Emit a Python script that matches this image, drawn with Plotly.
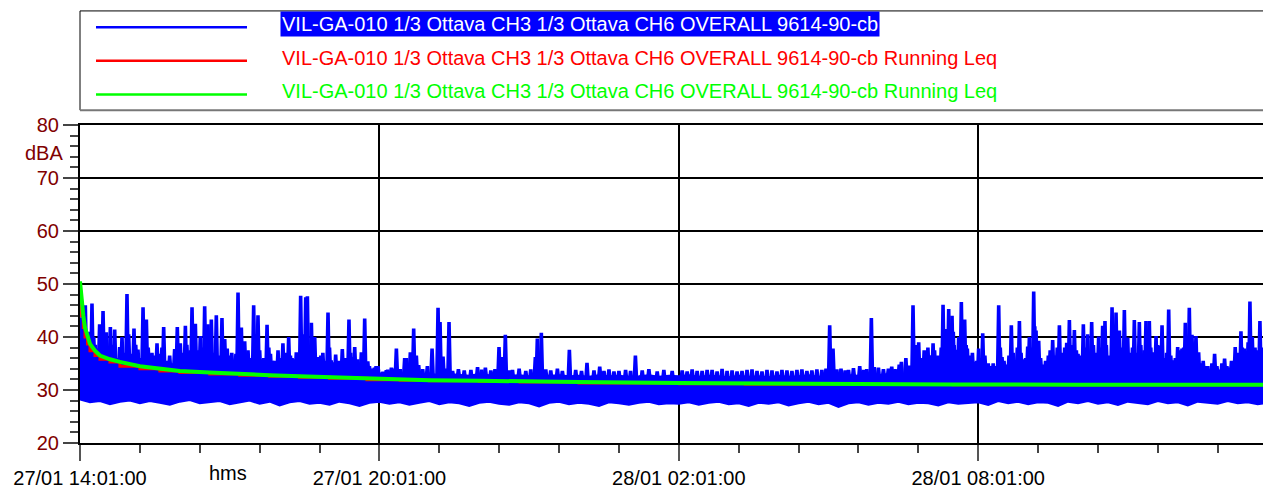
import numpy as np
import pandas as pd
import plotly.graph_objects as go

START = pd.Timestamp("2021-01-27 14:01:00")
END_MIN = 1422.4  # minutes after start at the right edge of the view

# ---- Blue series: noise band, sampled every 12 min (floor and top of the dense band, dBA) ----
band_min = list(range(0, 1440, 12))
band_floor = [28.2, 27.7, 27.9, 27.3, 27.8, 28.0, 27.5, 27.9, 27.6, 27.2, 27.8, 28.1, 27.5, 27.7, 27.9,
              27.3, 27.6, 28.0, 27.4, 27.8, 27.1, 27.7, 27.9, 27.4, 27.6, 27.2, 27.8, 27.5, 27.0, 27.6,
              27.8, 27.4, 27.7, 27.2, 27.6, 27.9, 27.3, 27.7, 27.5, 27.0, 27.6, 27.8, 27.4, 27.2, 27.7,
              27.5, 26.9, 27.6, 27.8, 27.3, 27.6, 27.4, 27.0, 27.7, 27.5, 27.2, 27.6, 27.8, 27.3, 27.5,
              27.4, 27.7, 27.2, 27.6, 27.8, 27.3, 27.5, 27.0, 27.6, 27.4, 27.7, 27.1, 27.5, 27.8, 27.3,
              27.6, 26.8, 27.5, 27.7, 27.2, 27.6, 27.4, 27.8, 27.3, 27.6, 27.5, 27.1, 27.7, 27.4, 27.6,
              27.7, 27.2, 27.9, 27.5, 27.8, 27.3, 27.7, 27.6, 27.0, 27.8, 27.5, 27.9, 27.4, 27.7, 27.2,
              27.8, 27.6, 27.3, 27.9, 27.5, 27.7, 27.1, 27.8, 27.6, 27.4, 27.9, 27.5, 27.7, 27.3, 27.6]
band_top = [36.0, 35.4, 35.0, 34.8, 34.5, 34.6, 34.2, 34.4, 34.0, 34.2, 33.9, 34.1, 33.8, 34.0, 33.7,
            33.9, 33.6, 33.8, 33.5, 33.7, 33.5, 33.6, 33.4, 33.6, 33.3, 33.5, 33.3, 33.4, 33.2, 33.3,
            33.1, 33.3, 33.0, 33.2, 32.9, 33.1, 32.8, 33.0, 32.9, 32.7, 33.0, 32.8, 32.9, 32.7, 32.8,
            32.6, 32.9, 32.7, 32.8, 32.6, 32.7, 32.5, 32.8, 32.6, 32.7, 32.5, 32.6, 32.8, 32.5, 32.7,
            32.6, 32.8, 32.5, 32.7, 32.6, 32.4, 32.7, 32.5, 32.6, 32.4, 32.7, 32.5, 32.6, 32.8, 32.5,
            32.7, 32.6, 32.8, 32.7, 32.9, 32.8, 33.0, 32.9, 33.1, 33.0, 33.2, 33.1, 33.3, 33.2, 33.3,
            33.2, 33.4, 33.1, 33.3, 33.2, 33.4, 33.3, 33.1, 33.4, 33.2, 33.3, 33.5, 33.2, 33.4, 33.3,
            33.1, 33.3, 33.2, 33.4, 33.1, 33.3, 33.2, 33.0, 33.2, 33.1, 33.3, 33.2, 33.0, 33.2, 33.1]

# ---- Blue series: peaks as (minutes after start, dBA), by part of the day ----
peaks_afternoon = [
    (1.5, 43.7), (3.0, 38.0), (4.0, 40.0), (6.4, 46.0), (8.5, 39.5), (10.0, 37.5), (12.0, 41.0), (14.4, 46.3),
    (16.5, 40.0), (18.5, 38.5), (20.5, 37.8), (23.6, 42.4), (25.5, 39.0), (27.7, 44.9), (29.5, 38.0),
    (31.7, 40.9), (34.0, 37.5), (36.5, 41.9), (39.0, 38.5), (41.7, 41.4), (44.5, 36.0), (47.7, 38.1),
    (50.5, 40.0), (53.0, 37.0), (56.5, 48.1), (58.5, 40.5), (61.0, 36.8), (64.9, 41.6), (67.0, 38.5),
    (69.7, 37.6), (72.5, 36.0), (75.8, 45.6), (79.8, 43.3), (82.0, 38.0), (84.6, 36.3), (86.5, 37.0),
    (88.5, 35.8), (90.5, 36.5), (92.6, 38.8), (96.0, 36.8), (98.5, 38.0), (100.6, 41.9), (104.0, 35.5),
    (107.8, 36.5), (110.5, 35.0), (113.8, 37.7), (115.5, 36.5), (117.0, 41.9), (120.6, 38.8), (123.5, 37.0),
    (126.7, 42.1), (128.5, 38.5), (130.5, 36.2), (132.5, 37.5), (134.7, 45.6), (136.5, 39.0), (138.7, 42.5),
    (141.0, 37.5), (144.7, 40.2), (147.0, 38.0), (149.9, 45.8), (151.5, 39.5), (153.9, 42.4), (155.5, 38.5),
    (157.9, 43.3), (160.9, 37.0), (163.9, 44.1), (167.0, 36.5), (170.7, 43.6), (172.5, 38.0), (174.0, 39.6),
    (177.0, 37.8), (180.0, 36.5), (182.5, 37.0), (185.0, 35.5), (187.5, 36.8), (190.0, 48.4), (192.0, 40.0),
    (194.0, 41.8), (196.0, 38.0), (198.0, 39.2), (200.0, 36.5), (202.0, 37.5), (205.0, 36.0), (208.8, 46.0),
    (211.0, 40.5), (214.0, 44.1), (216.0, 37.5), (218.0, 35.8), (221.0, 36.0), (224.9, 42.3), (227.0, 38.0),
    (229.0, 36.8), (231.5, 35.5), (234.0, 35.5), (238.1, 37.5), (241.0, 36.0), (244.0, 38.8), (247.0, 37.0),
    (250.9, 40.0), (253.0, 36.5), (255.0, 36.0), (258.0, 35.8), (260.1, 37.1), (262.5, 36.0), (265.3, 47.8),
    (268.0, 40.5), (271.4, 47.5), (273.4, 47.7), (275.5, 38.5), (278.2, 42.7), (280.0, 37.0), (282.2, 40.0),
    (285.0, 35.5), (287.0, 36.2), (289.5, 36.5), (292.0, 37.0), (295.0, 35.5), (298.2, 44.6), (300.0, 38.0),
    (302.0, 35.6), (305.0, 35.2), (307.4, 36.7), (311.0, 35.5), (313.0, 35.0), (315.4, 37.7), (317.0, 35.6),
    (319.0, 36.0), (321.0, 35.0), (323.4, 43.3), (325.5, 37.0), (327.0, 36.2), (330.3, 38.1), (332.0, 35.5),
    (334.0, 35.8), (336.0, 35.0), (338.3, 37.1), (340.0, 36.5), (342.3, 43.5), (344.0, 35.0), (346.0, 35.4),
    (348.0, 34.5), (350.3, 33.5), (352.0, 34.0), (354.0, 34.2), (356.0, 34.5), (358.3, 34.5)]
peaks_evening = [
    (364.3, 33.4), (368.3, 33.7), (370.0, 33.8), (374.4, 34.2), (378.0, 34.0), (380.4, 37.8), (385.0, 33.9),
    (390.4, 36.0), (392.5, 36.0), (397.2, 37.1), (401.2, 41.6), (404.4, 36.5), (407.2, 34.7), (412.0, 33.9),
    (417.7, 34.5), (423.3, 37.8), (430.5, 45.5), (432.9, 42.8), (436.5, 36.3), (440.0, 34.0), (443.7, 42.8),
    (448.0, 33.6), (455.0, 33.9), (462.0, 33.7), (470.0, 33.8), (478.0, 34.3), (483.0, 33.8), (487.4, 34.2),
    (494.0, 33.7), (499.0, 33.9), (503.8, 38.1), (507.4, 36.2), (511.4, 40.4), (516.0, 33.7), (520.0, 33.8),
    (528.0, 34.0), (536.0, 33.6), (542.0, 33.9), (547.5, 36.2), (549.9, 39.7), (554.7, 40.8), (560.0, 33.9),
    (566.0, 33.7), (574.0, 34.0), (580.0, 33.6), (588.4, 37.6), (596.0, 33.8), (603.0, 33.6), (609.6, 35.1),
    (618.0, 33.7), (624.9, 34.4), (630.0, 33.6), (636.0, 33.9), (642.0, 33.5), (648.0, 33.6), (656.0, 33.8),
    (662.0, 33.6), (667.8, 36.5), (676.0, 33.7), (684.0, 33.9), (694.0, 33.5), (702.0, 33.8), (712.0, 33.6)]
peaks_night = [
    (724.0, 33.7), (730.0, 33.5), (736.0, 33.9), (742.0, 33.6), (748.0, 33.6), (754.0, 33.8), (760.0, 33.8),
    (766.0, 33.5), (772.0, 34.0), (778.0, 33.6), (784.0, 33.7), (790.0, 33.5), (796.0, 33.6), (802.0, 33.8),
    (808.0, 33.9), (814.0, 33.6), (820.0, 33.5), (826.0, 33.8), (832.0, 33.7), (838.0, 33.5), (844.0, 33.8),
    (850.0, 33.7), (856.0, 33.6), (862.0, 33.8), (868.0, 33.9), (874.0, 33.6), (880.0, 33.7), (886.0, 33.9),
    (892.0, 33.8), (897.0, 34.0), (901.4, 42.2), (905.4, 37.8), (910.0, 33.9), (915.0, 34.0), (920.0, 33.7),
    (924.0, 33.8), (930.0, 34.1), (937.5, 34.5), (942.0, 33.8), (946.0, 33.9), (951.5, 43.6), (955.0, 34.3),
    (960.0, 34.2), (966.0, 33.9), (972.0, 34.0), (976.0, 34.4), (980.0, 33.9), (985.0, 34.8), (987.6, 35.3),
    (993.0, 36.0), (997.0, 34.6), (1001.6, 46.0), (1003.5, 37.0), (1006.0, 38.5), (1008.4, 39.0),
    (1010.5, 36.0), (1012.0, 35.5), (1015.0, 37.5), (1017.7, 36.1), (1019.5, 38.0), (1021.0, 36.5),
    (1023.5, 36.5), (1025.7, 38.8), (1027.5, 37.5), (1029.0, 36.0), (1031.5, 36.5), (1033.7, 34.8),
    (1035.5, 38.0), (1037.7, 46.1), (1039.5, 39.0), (1041.7, 41.5), (1043.0, 40.0), (1044.5, 45.3),
    (1046.5, 39.5), (1048.5, 44.0), (1050.0, 41.0), (1051.0, 38.5), (1053.0, 37.0), (1054.9, 37.6),
    (1056.5, 40.0), (1058.0, 39.5), (1059.7, 46.6), (1061.5, 40.5), (1063.7, 43.3), (1065.5, 38.5),
    (1066.9, 37.8), (1068.5, 36.0), (1070.9, 36.5), (1073.0, 37.0), (1075.7, 35.3), (1078.0, 35.5)]
peaks_morning = [
    (1080.5, 37.8), (1082.5, 36.0), (1085.4, 40.7), (1088.0, 36.5), (1092.0, 35.0), (1095.0, 34.5),
    (1098.0, 35.0), (1101.0, 34.5), (1104.6, 46.0), (1106.5, 38.0), (1108.6, 36.2), (1111.0, 35.5),
    (1114.0, 34.8), (1117.0, 36.5), (1119.8, 42.2), (1122.0, 37.0), (1124.6, 35.6), (1127.0, 38.0),
    (1129.5, 43.0), (1131.5, 37.0), (1134.0, 35.8), (1137.0, 36.0), (1139.5, 38.2), (1141.5, 40.0),
    (1143.5, 36.8), (1145.0, 38.0), (1146.7, 48.6), (1148.0, 42.0), (1149.5, 41.2), (1151.0, 37.0),
    (1152.7, 39.3), (1155.0, 36.0), (1158.0, 34.8), (1161.0, 35.5), (1164.3, 36.5), (1166.5, 37.5),
    (1169.5, 39.4), (1172.0, 36.5), (1175.0, 38.0), (1177.6, 42.2), (1180.0, 37.0), (1182.0, 36.0),
    (1184.0, 38.0), (1186.4, 38.9), (1188.0, 37.0), (1189.6, 43.2), (1192.0, 38.5), (1195.6, 41.3),
    (1198.0, 37.5), (1200.0, 36.8), (1203.0, 36.5), (1206.4, 42.4), (1209.0, 38.0), (1211.6, 40.5),
    (1214.0, 37.0), (1216.4, 42.8), (1218.5, 38.5), (1220.0, 36.8), (1222.5, 37.0), (1224.8, 40.1),
    (1227.0, 38.0), (1229.6, 42.1), (1232.4, 43.0), (1234.0, 38.5), (1236.0, 34.8), (1238.0, 36.5),
    (1240.9, 45.6), (1243.0, 40.0), (1245.7, 44.6), (1247.5, 38.5), (1249.7, 41.2), (1252.0, 38.0),
    (1255.7, 45.1), (1258.0, 37.5), (1259.7, 39.9), (1261.5, 37.0), (1263.5, 35.5), (1265.5, 38.0),
    (1267.7, 43.2), (1270.5, 37.0), (1273.7, 42.8), (1275.5, 38.5), (1277.5, 36.8), (1279.5, 37.5),
    (1281.7, 43.0), (1283.5, 38.5), (1285.7, 43.0), (1287.5, 38.0), (1289.8, 37.1), (1291.5, 36.5),
    (1293.8, 40.2), (1295.5, 38.5), (1297.8, 38.4), (1299.5, 37.0), (1301.0, 42.2), (1304.0, 36.0),
    (1306.5, 37.0), (1309.0, 45.2), (1311.5, 36.5), (1314.0, 35.6), (1317.0, 36.0), (1319.8, 38.1),
    (1322.0, 37.5), (1325.0, 37.8), (1327.0, 38.0), (1329.0, 42.7), (1331.5, 38.0), (1333.8, 45.5),
    (1335.5, 39.0), (1337.0, 40.4), (1339.5, 37.0), (1341.8, 40.2), (1343.5, 36.5), (1345.0, 37.1),
    (1348.0, 35.0), (1350.5, 35.5), (1353.0, 34.5), (1356.0, 34.5), (1358.0, 33.8), (1361.0, 35.0),
    (1364.2, 36.8), (1367.0, 34.5), (1370.0, 33.8), (1373.0, 35.0), (1376.2, 35.9), (1379.0, 34.5),
    (1382.0, 34.2), (1384.5, 35.5), (1386.0, 35.3), (1389.0, 38.1), (1392.5, 37.0), (1395.9, 41.1),
    (1397.5, 38.0), (1399.9, 37.8), (1402.5, 36.5), (1404.5, 39.0), (1406.7, 46.7), (1409.5, 40.0),
    (1412.8, 38.0), (1415.0, 37.5), (1418.7, 43.0), (1420.5, 38.0)]

# ---- Running Leq (green) and its stepped twin (red) ----
leq_min = [0, 1, 2, 4, 6, 9, 12, 18, 24, 36, 48, 72, 96, 120, 156, 192, 228, 264, 300, 345,
           385, 420, 480, 529, 600, 721, 800, 926, 1050, 1200, 1320, 1422.4]
leq_db = [50.5, 48.5, 46.8, 44.0, 41.8, 40.0, 38.7, 37.4, 36.5, 35.8, 35.3, 34.5, 34.0, 33.6, 33.3, 33.0,
          32.8, 32.6, 32.4, 32.2, 31.95, 31.85, 31.75, 31.6, 31.5, 31.3, 31.2, 31.1, 31.05, 31.0, 31.0, 31.0]
red_min = [0, 1, 2, 4, 6, 9, 12, 18, 24, 36, 48, 72, 96, 120, 156, 192, 228, 264, 300, 345,
           385, 420, 480, 529, 600, 721, 800, 926, 1050, 1200, 1320, 1422.4]
red_db = [48.5, 46.8, 44.0, 41.8, 40.0, 38.7, 37.4, 36.5, 35.8, 35.3, 34.5, 34.0, 33.6, 33.3, 33.0, 32.8,
          32.6, 32.4, 32.2, 31.95, 31.85, 31.75, 31.6, 31.5, 31.3, 31.2, 31.1, 31.05, 31.0, 31.0, 31.0, 31.0]

legend_names = ["VIL-GA-010 1/3 Ottava CH3 1/3 Ottava CH6 OVERALL 9614-90-cb",
                "VIL-GA-010 1/3 Ottava CH3 1/3 Ottava CH6 OVERALL 9614-90-cb Running Leq",
                "VIL-GA-010 1/3 Ottava CH3 1/3 Ottava CH6 OVERALL 9614-90-cb Running Leq"]

BLUE, RED, GREEN, DARKRED = "#0000FF", "#FF0000", "#00FF00", "#800000"
FONT = "Liberation Sans, Arial, sans-serif"


def to_time(mins):
    return [None if m is None else START + pd.Timedelta(minutes=float(m)) for m in mins]


fig = go.Figure()

# noise band
fig.add_trace(go.Scatter(x=to_time(band_min), y=band_floor, mode="lines",
                         line=dict(color=BLUE, width=2), showlegend=False, hoverinfo="skip"))
fig.add_trace(go.Scatter(x=to_time(band_min), y=band_top, mode="lines", fill="tonexty",
                         fillcolor=BLUE, line=dict(color=BLUE, width=2), showlegend=False,
                         name=legend_names[0]))

# peaks
peaks = sorted(peaks_afternoon + peaks_evening + peaks_night + peaks_morning)
sx, sy = [], []
for t, v in peaks:
    base = float(np.interp(t, band_min, band_top)) - 0.8
    sx += [t - 1.4, t, t + 1.4, None]
    sy += [base, v, base, None]
fig.add_trace(go.Scatter(x=to_time(sx), y=sy, mode="lines",
                         line=dict(color=BLUE, width=3.6, simplify=False),
                         showlegend=False, connectgaps=False, name=legend_names[0]))

# running Leq
fig.add_trace(go.Scatter(x=to_time(red_min), y=red_db, mode="lines", line=dict(color=RED, width=3, shape="hv"),
                         showlegend=False, name=legend_names[1]))
fig.add_trace(go.Scatter(x=to_time(leq_min), y=leq_db, mode="lines", line=dict(color=GREEN, width=4),
                         showlegend=False, name=legend_names[2]))

# ---- layout geometry ----
W, H = 1263, 489
L, T, PW, PH = 80, 125, 1183, 322


def pxx(x):
    return (x - L) / PW


def pxy(y):
    return (T + PH - y) / PH


shapes = []
# legend box
shapes.append(dict(type="line", xref="paper", yref="paper", x0=pxx(80), x1=pxx(1275), y0=pxy(9.5), y1=pxy(9.5),
                   line=dict(color="black", width=1)))
shapes.append(dict(type="line", xref="paper", yref="paper", x0=pxx(80), x1=pxx(80), y0=pxy(9.5), y1=pxy(110),
                   line=dict(color="black", width=1)))
shapes.append(dict(type="line", xref="paper", yref="paper", x0=pxx(80), x1=pxx(1275), y0=pxy(110), y1=pxy(110),
                   line=dict(color="#777777", width=2)))
annotations = []
for i, (c, yy) in enumerate(zip([BLUE, RED, GREEN], [26, 60, 94])):
    shapes.append(dict(type="line", xref="paper", yref="paper", x0=pxx(96), x1=pxx(247), y0=pxy(yy), y1=pxy(yy),
                       line=dict(color=c, width=2.5)))
    annotations.append(dict(xref="paper", yref="paper", x=pxx(280), y=pxy(yy - 3), xanchor="left", yanchor="middle",
                            text=legend_names[i], showarrow=False,
                            font=dict(family=FONT, size=20, color="white" if i == 0 else c),
                            bgcolor=BLUE if i == 0 else None, borderpad=1))
annotations.append(dict(xref="paper", yref="paper", x=pxx(44), y=pxy(153), xanchor="center", yanchor="middle",
                        text="dBA", showarrow=False, font=dict(family=FONT, size=20, color=DARKRED)))
annotations.append(dict(xref="paper", yref="paper", x=pxx(228), y=pxy(477), xanchor="center", yanchor="middle",
                        text="hms", showarrow=False, font=dict(family=FONT, size=20, color="black")))

fig.update_layout(
    width=W, height=H,
    margin=dict(l=L, r=W - L - PW, t=T, b=H - T - PH, pad=0),
    paper_bgcolor="white", plot_bgcolor="white",
    showlegend=False,
    shapes=shapes, annotations=annotations,
    font=dict(family=FONT, size=20, color="black"),
)
fig.update_xaxes(
    type="date",
    range=[START, START + pd.Timedelta(minutes=END_MIN)],
    tick0=START, dtick=6 * 3600 * 1000,
    tickformat="%d/%m %H:%M:%S",
    ticks="outside", ticklen=16, tickwidth=1.5, tickcolor="#555555",
    tickfont=dict(family=FONT, size=20, color="black"),
    showgrid=True, gridcolor="black", gridwidth=1.5,
    showline=True, linecolor="black", linewidth=2, mirror=True,
    minor=dict(dtick=72 * 60 * 1000, tick0=START, ticks="outside", ticklen=8, tickwidth=1.5,
               tickcolor="#444444", showgrid=False),
    zeroline=False,
)
fig.update_yaxes(
    range=[20, 80], dtick=10, tick0=20,
    ticks="outside", ticklen=15, tickwidth=1.5, tickcolor="#444444",
    tickfont=dict(family=FONT, size=20, color=DARKRED),
    showgrid=True, gridcolor="black", gridwidth=1.5,
    showline=True, linecolor="black", linewidth=2,
    minor=dict(dtick=2, ticks="outside", ticklen=8, tickwidth=1.5, tickcolor="#444444", showgrid=False),
    zeroline=False,
)

fig.write_html("out.html", config={"displayModeBar": False},
               post_script="document.body.style.margin='0';")
